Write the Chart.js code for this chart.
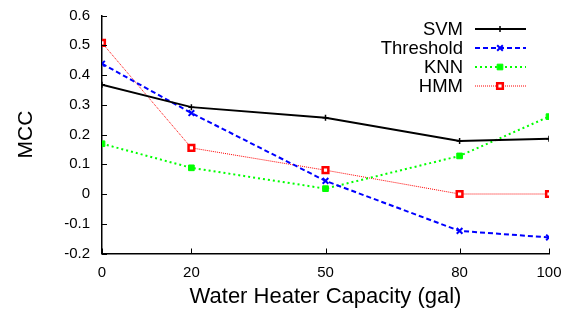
<!DOCTYPE html>
<html>
<head>
<meta charset="utf-8">
<script src="https://cdn.jsdelivr.net/npm/chart.js@4.4.0/dist/chart.umd.min.js"></script>
<style>
  html, body { margin: 0; padding: 0; background: #fff; }
  #wrap { width: 567px; height: 314px; }
</style>
</head>
<body>
<div id="wrap"><canvas id="chart" width="567" height="314"></canvas></div>
<script>
  // data
  const capacities = [0, 20, 50, 80, 100];
  const yTicks = [-0.2, -0.1, 0, 0.1, 0.2, 0.3, 0.4, 0.5, 0.6];
  const svm = [0.367, 0.292, 0.256, 0.178, 0.186];
  const threshold = [0.438, 0.272, 0.044, -0.124, -0.146];
  const knn = [0.169, 0.088, 0.018, 0.128, 0.26];
  const hmm = [0.508, 0.155, 0.080, 0.0, 0.0];

  const FONT = '"Liberation Sans", Arial, sans-serif';

  const toPts = (vals) => vals.map((v, i) => ({ x: capacities[i], y: v }));

  // draws inward tick marks on the two axes
  const innerTicks = {
    id: 'innerTicks',
    afterDraw(chart) {
      const { ctx, chartArea, scales } = chart;
      ctx.save();
      ctx.strokeStyle = '#000';
      ctx.lineWidth = 1;
      yTicks.forEach((v) => {
        const y = Math.round(scales.y.getPixelForValue(v)) + 0.5;
        ctx.beginPath();
        ctx.moveTo(chartArea.left, y);
        ctx.lineTo(chartArea.left + 5, y);
        ctx.stroke();
      });
      capacities.forEach((v) => {
        const x = Math.round(scales.x.getPixelForValue(v)) + 0.5;
        ctx.beginPath();
        ctx.moveTo(x, chartArea.bottom);
        ctx.lineTo(x, chartArea.bottom - 5);
        ctx.stroke();
      });
      ctx.restore();
    }
  };

  // gnuplot-like key in the top right corner
  const keyBox = {
    id: 'keyBox',
    afterDraw(chart) {
      const { ctx } = chart;
      ctx.save();
      ctx.font = '18.5px ' + FONT;
      ctx.textAlign = 'right';
      ctx.textBaseline = 'middle';
      chart.data.datasets.forEach((ds, i) => {
        const y = 29 + i * 19;
        ctx.fillStyle = '#000';
        ctx.fillText(ds.label, 463, y + 1);
        ctx.strokeStyle = ds.borderColor;
        ctx.lineWidth = ds.borderWidth;
        ctx.setLineDash(ds.borderDash || []);
        ctx.beginPath();
        ctx.moveTo(475, y);
        ctx.lineTo(526, y);
        ctx.stroke();
        ctx.setLineDash([]);
        ctx.fillStyle = ds.pointBackgroundColor;
        ctx.strokeStyle = ds.borderColor;
        ctx.lineWidth = ds.pointBorderWidth || 1;
        Chart.helpers.drawPoint(ctx, {
          pointStyle: ds.pointStyle,
          radius: ds.pointRadius,
          borderWidth: ds.pointBorderWidth || 1
        }, 500, y);
      });
      ctx.restore();
    }
  };

  new Chart(document.getElementById('chart').getContext('2d'), {
    type: 'line',
    data: {
      datasets: [
        { label: 'SVM', data: toPts(svm), borderColor: '#000000', borderWidth: 2,
          pointStyle: 'cross', pointRadius: 3, pointBorderWidth: 1.5,
          pointBackgroundColor: '#000000' },
        { label: 'Threshold', data: toPts(threshold), borderColor: '#0000ff', borderWidth: 2,
          borderDash: [5, 3], pointStyle: 'crossRot', pointRadius: 4, pointBorderWidth: 2,
          pointBackgroundColor: '#0000ff' },
        { label: 'KNN', data: toPts(knn), borderColor: '#00ff00', borderWidth: 2,
          borderDash: [2, 3], pointStyle: 'rect', pointRadius: 4, pointBorderWidth: 1,
          pointBackgroundColor: '#00ff00' },
        { label: 'HMM', data: toPts(hmm), borderColor: '#ff0000', borderWidth: 1,
          borderDash: [1, 1], pointStyle: 'rect', pointRadius: 4, pointBorderWidth: 2.5,
          pointBackgroundColor: '#ffffff' }
      ]
    },
    options: {
      responsive: false,
      animation: false,
      layout: { padding: { left: 0, right: 18, top: 15.5, bottom: 0 } },
      plugins: { legend: { display: false }, tooltip: { enabled: false } },
      elements: { line: { tension: 0, fill: false } },
      scales: {
        x: {
          type: 'linear',
          min: 0, max: 100,
          afterBuildTicks: (s) => { s.ticks = capacities.map((v) => ({ value: v })); },
          afterFit: (s) => { s.height = 60.5; s.paddingLeft = 0; s.paddingRight = 0; },
          grid: { display: false, drawTicks: false },
          border: { display: true, color: '#000', width: 1.5 },
          ticks: { color: '#000', font: { family: FONT, size: 15 }, padding: 10, maxRotation: 0 },
          title: { display: true, text: 'Water Heater Capacity (gal)', color: '#000',
                   font: { family: FONT, size: 22 }, padding: { top: 3 } }
        },
        y: {
          min: -0.2, max: 0.6,
          afterBuildTicks: (s) => { s.ticks = yTicks.map((v) => ({ value: v })); },
          afterFit: (s) => { s.width = 102; s.paddingTop = 0; s.paddingBottom = 0; },
          grid: { display: false, drawTicks: false },
          border: { display: true, color: '#000', width: 1.5 },
          ticks: { color: '#000', font: { family: FONT, size: 15 }, padding: 12,
                   callback: (v) => String(Math.round(v * 10) / 10) },
          title: { display: true, text: 'MCC', color: '#000',
                   font: { family: FONT, size: 21 }, padding: { top: 14, bottom: 10 } }
        }
      }
    },
    plugins: [innerTicks, keyBox]
  });
</script>
</body>
</html>
